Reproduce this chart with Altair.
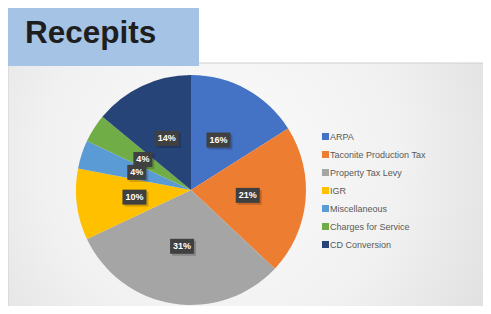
import altair as alt
import pandas as pd

categories = ["ARPA", "Taconite Production Tax", "Property Tax Levy", "IGR",
              "Miscellaneous", "Charges for Service", "CD Conversion"]
values = [16, 21, 31, 10, 4, 4, 14]
colors = ["#4472c4", "#ed7d31", "#a5a5a5", "#ffc000", "#5b9bd5", "#70ad47", "#264478"]
title_text = "Recepits"

W, H = 475, 298
CX, CY = 183, 182
R = 115
LR = 57

df = pd.DataFrame({"cat": categories, "value": values, "idx": list(range(len(values)))})

xs = alt.Scale(domain=[-CX, W - CX], nice=False, zero=False)
ys = alt.Scale(domain=[-(H - CY), CY], nice=False, zero=False)

blank = alt.Data(values=[{}])

panel = alt.Chart(blank).mark_rect(
    fill=alt.RadialGradient(
        gradient="radial",
        stops=[alt.GradientStop(color="#fbfbfb", offset=0),
               alt.GradientStop(color="#f1f1f1", offset=0.5),
               alt.GradientStop(color="#d9d9d9", offset=1)],
        x1=0.45, y1=0.45, r1=0, x2=0.45, y2=0.45, r2=0.75),
    stroke="#cfcfcf", strokeWidth=1
).encode(x=alt.value(0), x2=alt.value(W + 2), y=alt.value(55), y2=alt.value(H + 2))

banner = alt.Chart(blank).mark_rect(fill="#a5c3e5").encode(
    x=alt.value(0), x2=alt.value(191), y=alt.value(0), y2=alt.value(58))

title = alt.Chart(blank).mark_text(
    text=title_text, font="Liberation Sans", fontSize=31.5, fontWeight="bold",
    color="#1e1e1e", align="left", baseline="alphabetic"
).encode(x=alt.value(17), y=alt.value(35))

base = alt.Chart(df)

pie = base.mark_arc(outerRadius=R, stroke=None).encode(
    theta=alt.Theta("value:Q", stack=True),
    order=alt.Order("idx:Q"),
    color=alt.Color("cat:N", scale=alt.Scale(domain=categories, range=colors),
                    sort=categories,
                    legend=alt.Legend(title=None, orient="none", legendX=313, legendY=124,
                                      symbolType="square", symbolSize=49,
                                      symbolStrokeWidth=0, labelFontSize=9,
                                      labelFont="Liberation Sans", labelColor="#595959",
                                      rowPadding=8, labelOffset=0)),
    x=alt.value(CX), y=alt.value(CY),
)

lab = base.transform_joinaggregate(total="sum(value)").transform_window(
    cum="sum(value)", sort=[alt.SortField("idx")], frame=[None, 0]
).transform_calculate(
    mid=f"(datum.cum - datum.value/2)/datum.total*2*PI",
    lx=f"{LR}*sin(datum.mid)",
    ly=f"{LR}*cos(datum.mid)",
    label="format(datum.value/datum.total, '.0%')",
    hw="length(datum.label) > 2 ? 12 : 9.5",
    bx1="datum.lx - datum.hw", bx2="datum.lx + datum.hw",
    by1="datum.ly - 7.5", by2="datum.ly + 7.5",
    sx1="datum.bx1 + 2", sx2="datum.bx2 + 2",
    sy1="datum.by1 - 2", sy2="datum.by2 - 2",
)

shadow = lab.mark_rect(color="#000000", opacity=0.18).encode(
    x=alt.X("sx1:Q", scale=xs, axis=None), x2="sx2:Q",
    y=alt.Y("sy1:Q", scale=ys, axis=None), y2="sy2:Q")

box = lab.mark_rect(color="#404040").encode(
    x=alt.X("bx1:Q", scale=xs, axis=None), x2="bx2:Q",
    y=alt.Y("by1:Q", scale=ys, axis=None), y2="by2:Q")

txt = lab.mark_text(color="white", fontSize=9, fontWeight="bold",
                    font="Liberation Sans", align="center", baseline="middle").encode(
    x=alt.X("lx:Q", scale=xs, axis=None),
    y=alt.Y("ly:Q", scale=ys, axis=None),
    text="label:N")

chart = alt.layer(panel, banner, title, pie, shadow, box, txt).properties(
    width=W, height=H, padding=0, background="white",
    autosize=alt.AutoSizeParams(type="none")
).configure_view(strokeWidth=0, stroke="transparent")

chart.save("out.html", embed_options={"renderer": "svg", "actions": False})
